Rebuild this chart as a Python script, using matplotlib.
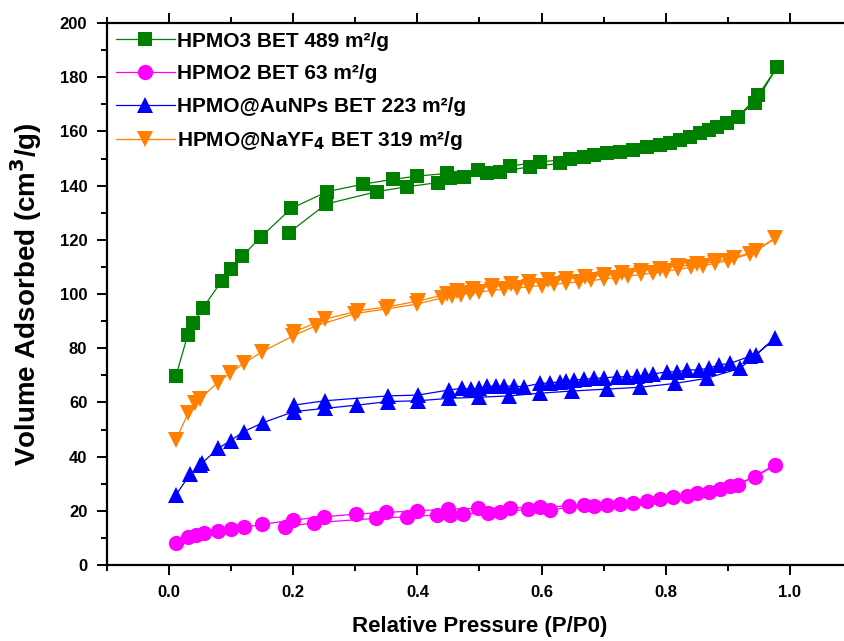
import numpy as np
import matplotlib
matplotlib.use('Agg')
import matplotlib.pyplot as plt

plt.rcParams['font.family'] = ['Liberation Sans', 'DejaVu Sans']
plt.rcParams['font.weight'] = 'bold'

# HPMO3 (green squares): branch A up to P=0.98, then branch B coming back down
p_hpmo3_a = [0.011, 0.030, 0.039, 0.054, 0.085, 0.100, 0.118, 0.148, 0.197, 0.255, 0.312, 0.360, 0.399,
             0.448, 0.497, 0.549, 0.598, 0.646, 0.684, 0.727, 0.770, 0.807, 0.839, 0.869, 0.898, 0.944, 0.979]
v_hpmo3_a = [69.7, 84.9, 89.2, 94.7, 104.9, 109.1, 114.0, 121.1, 131.6, 137.8, 140.5, 142.3, 143.5,
             144.5, 145.8, 147.2, 148.8, 149.7, 151.3, 152.5, 154.1, 155.8, 157.8, 160.5, 163.0, 170.4, 183.6]
p_hpmo3_b = [0.949, 0.917, 0.882, 0.855, 0.823, 0.791, 0.748, 0.705, 0.668, 0.630, 0.582, 0.533, 0.512,
             0.475, 0.453, 0.433, 0.384, 0.335, 0.253, 0.193]
v_hpmo3_b = [173.4, 165.4, 161.7, 159.3, 156.8, 155.0, 153.1, 151.9, 150.4, 148.2, 147.0, 145.1, 144.5,
             143.3, 142.7, 141.1, 139.6, 137.8, 133.2, 122.6]

# HPMO2 (magenta circles)
p_hpmo2_a = [0.011, 0.031, 0.043, 0.057, 0.079, 0.100, 0.120, 0.150, 0.199, 0.250, 0.301, 0.349, 0.399,
             0.449, 0.497, 0.549, 0.597, 0.644, 0.705, 0.748, 0.791, 0.834, 0.869, 0.904, 0.944, 0.976]
v_hpmo2_a = [8.0, 10.2, 11.1, 11.7, 12.7, 13.3, 13.9, 15.0, 16.6, 17.8, 18.8, 19.4, 20.0,
             20.6, 20.9, 21.0, 21.5, 21.7, 22.3, 23.0, 24.2, 25.5, 27.0, 29.2, 32.4, 36.9]
p_hpmo2_b = [0.917, 0.887, 0.850, 0.812, 0.770, 0.727, 0.684, 0.668, 0.614, 0.578, 0.533, 0.513, 0.474,
             0.453, 0.432, 0.383, 0.333, 0.234, 0.186]
v_hpmo2_b = [29.5, 27.9, 26.5, 25.0, 23.7, 22.6, 21.8, 22.1, 20.3, 20.6, 19.4, 19.3, 18.8,
             18.5, 18.5, 17.8, 17.2, 15.6, 14.1]

# HPMO@AuNPs (blue triangles)
p_au_a = [0.011, 0.034, 0.049, 0.053, 0.079, 0.099, 0.120, 0.151, 0.201, 0.251, 0.303, 0.352, 0.401,
          0.451, 0.499, 0.547, 0.598, 0.649, 0.705, 0.759, 0.815, 0.866, 0.920, 0.976]
v_au_a = [25.8, 33.6, 36.9, 37.6, 43.0, 45.9, 49.2, 52.5, 56.6, 57.8, 59.0, 60.3, 60.6,
          61.5, 61.9, 62.4, 63.4, 64.2, 64.9, 65.6, 67.0, 68.9, 72.6, 83.7]
p_au_b = [0.945, 0.935, 0.904, 0.885, 0.869, 0.853, 0.834, 0.818, 0.802, 0.780, 0.766, 0.753, 0.737,
          0.721, 0.700, 0.684, 0.668, 0.652, 0.640, 0.630, 0.614, 0.598, 0.571, 0.555, 0.540, 0.526,
          0.512, 0.500, 0.486, 0.472, 0.451, 0.401, 0.352, 0.251, 0.201]
v_au_b = [77.5, 77.0, 74.4, 73.8, 72.6, 72.0, 72.0, 71.3, 71.3, 70.5, 70.0, 69.7, 69.4,
          69.5, 69.0, 68.9, 68.5, 68.3, 67.8, 67.6, 67.2, 67.0, 65.8, 66.0, 66.0, 66.0,
          66.0, 65.2, 65.0, 65.2, 64.6, 62.7, 62.4, 60.6, 59.0]

# HPMO@NaYF4 (orange down triangles)
p_nayf_a = [0.011, 0.031, 0.041, 0.049, 0.078, 0.098, 0.120, 0.150, 0.200, 0.236, 0.300, 0.350, 0.400,
            0.440, 0.455, 0.470, 0.485, 0.500, 0.520, 0.540, 0.560, 0.580, 0.600, 0.620, 0.640, 0.660,
            0.680, 0.700, 0.720, 0.740, 0.760, 0.780, 0.800, 0.820, 0.840, 0.860, 0.880, 0.900, 0.935, 0.976]
v_nayf_a = [46.1, 56.2, 59.9, 61.1, 67.3, 70.7, 74.4, 78.7, 84.6, 88.2, 92.8, 94.5, 96.3,
            98.6, 99.3, 99.8, 100.3, 100.8, 101.3, 101.8, 102.2, 102.7, 103.1, 103.6, 104.0, 104.5,
            105.0, 105.5, 106.0, 106.6, 107.2, 107.8, 108.4, 109.1, 109.8, 110.5, 111.3, 112.3, 114.8, 120.5]
p_nayf_b = [0.945, 0.910, 0.880, 0.850, 0.820, 0.790, 0.760, 0.730, 0.700, 0.670, 0.640, 0.610, 0.580,
            0.550, 0.520, 0.490, 0.464, 0.448, 0.401, 0.353, 0.305, 0.251, 0.201]
v_nayf_b = [115.8, 113.4, 112.0, 111.0, 110.2, 109.4, 108.6, 107.8, 107.0, 106.3, 105.6, 105.0, 104.3,
            103.6, 102.8, 102.0, 101.0, 100.0, 97.4, 95.3, 93.8, 90.7, 86.0]

labels = ['HPMO3 BET 489 m²/g', 'HPMO2 BET 63 m²/g', 'HPMO@AuNPs BET 223 m²/g',
          'HPMO@NaYF$_\\mathbf{4}$ BET 319 m²/g']

fig = plt.figure(figsize=(8.45, 6.41), dpi=100)
ax = fig.add_axes([107/845, 76/641, 745/845, 542/641])

series = [
    (p_hpmo3_a + p_hpmo3_b, v_hpmo3_a + v_hpmo3_b, '#008000', 's', 10.5),
    (p_hpmo2_a + p_hpmo2_b, v_hpmo2_a + v_hpmo2_b, '#ff00ff', 'o', 11),
    (p_au_a + p_au_b, v_au_a + v_au_b, '#0000ff', '^', 11),
    (p_nayf_a + p_nayf_b, v_nayf_a + v_nayf_b, '#ff8000', 'v', 11),
]
for (x, y, c, m, ms), lab in zip(series, labels):
    ax.plot(x, y, color=c, marker=m, markersize=ms, markeredgewidth=0, lw=0.9, label=lab)

ax.set_xlim(-0.1, 1.1)
ax.set_ylim(0, 200)
ax.set_xticks([0.0, 0.2, 0.4, 0.6, 0.8, 1.0])
ax.set_xticks(np.arange(-0.1, 1.11, 0.1), minor=True)
ax.set_yticks(np.arange(0, 201, 20))
ax.set_yticks(np.arange(0, 201, 10), minor=True)
ax.set_xticklabels(['0.0', '0.2', '0.4', '0.6', '0.8', '1.0'])

for s in ax.spines.values():
    s.set_linewidth(1.6)
ax.spines['right'].set_visible(False)
ax.tick_params(which='both', direction='out', width=1.4, top=True, labelsize=12, pad=7)
ax.tick_params(which='major', length=7.2)
ax.tick_params(which='minor', length=4.3)
for t in ax.get_xticklabels() + ax.get_yticklabels():
    t.set_fontweight('bold')

ax.set_xlabel('Relative Pressure (P/P0)', fontsize=16, fontweight='bold', labelpad=12)
ax.set_ylabel('Volume Adsorbed (cm$^\\mathbf{3}$/g)', fontsize=20, fontweight='bold', labelpad=11)

leg = ax.legend(loc='upper left', frameon=False, fontsize=15, handlelength=2.85,
                handletextpad=0.08, borderaxespad=0.1, labelspacing=0.65, borderpad=0.32)
for t in leg.get_texts():
    t.set_fontweight('bold')

fig.savefig('out.png', dpi=100)
